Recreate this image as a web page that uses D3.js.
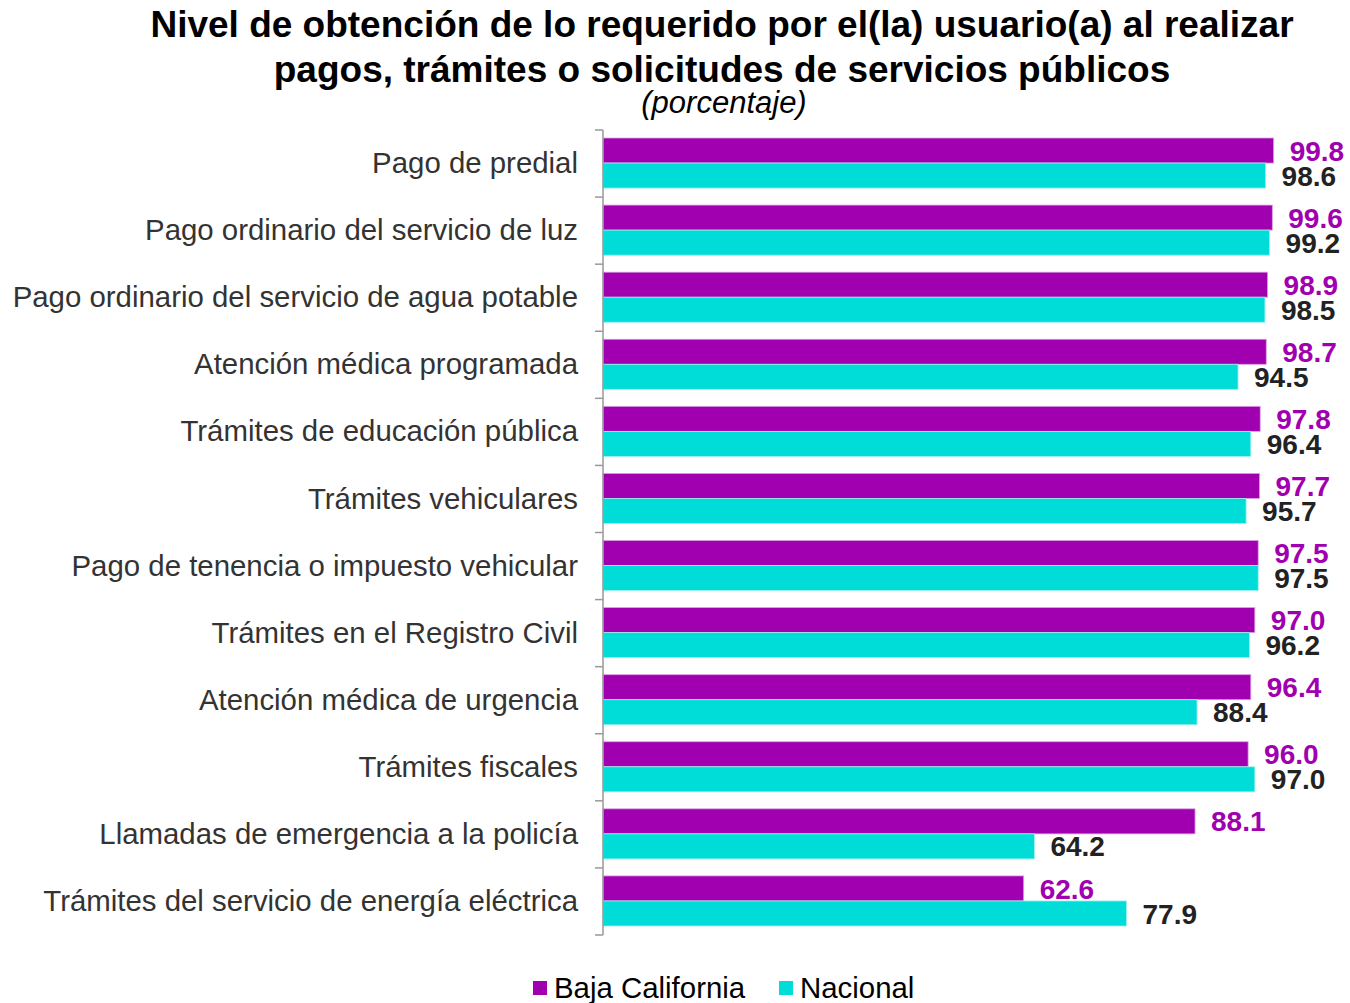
<!DOCTYPE html>
<html><head><meta charset="utf-8">
<script src="https://cdn.jsdelivr.net/npm/d3@7/dist/d3.min.js"></script>
<style>body{margin:0;background:#fff;}svg{display:block;font-family:"Liberation Sans",Arial,sans-serif;}</style>
</head><body>
<svg id="c" width="1350" height="1003"></svg>
<script>
const categories = ["Pago de predial","Pago ordinario del servicio de luz","Pago ordinario del servicio de agua potable","Atención médica programada","Trámites de educación pública","Trámites vehiculares","Pago de tenencia o impuesto vehicular","Trámites en el Registro Civil","Atención médica de urgencia","Trámites fiscales","Llamadas de emergencia a la policía","Trámites del servicio de energía eléctrica"];
const bajaCalifornia = [99.8,99.6,98.9,98.7,97.8,97.7,97.5,97.0,96.4,96.0,88.1,62.6];
const nacional = [98.6,99.2,98.5,94.5,96.4,95.7,97.5,96.2,88.4,97.0,64.2,77.9];
const seriesNames = ["Baja California","Nacional"];
const colors = ["#A000B0","#00DCD8"];
const labelColors = ["#A000B0","#222222"];

const svg = d3.select("#c");
const x = d3.scaleLinear().domain([0,100]).range([603,1275]);
const y = d3.scaleBand().domain(categories).range([130,935]).paddingInner(0).paddingOuter(0);
const inner = d3.scaleBand().domain(seriesNames).range([8, y.bandwidth()-9]);

// title
svg.append("text").attr("x",722).attr("y",37).attr("text-anchor","middle").attr("font-size",37).attr("font-weight","bold").attr("fill","#000").text("Nivel de obtención de lo requerido por el(la) usuario(a) al realizar");
svg.append("text").attr("x",722).attr("y",82).attr("text-anchor","middle").attr("font-size",37).attr("font-weight","bold").attr("fill","#000").text("pagos, trámites o solicitudes de servicios públicos");
svg.append("text").attr("x",724).attr("y",113).attr("text-anchor","middle").attr("font-size",31).attr("font-style","italic").attr("fill","#000").text("(porcentaje)");

const series = [bajaCalifornia, nacional];
const g = svg.append("g");
series.forEach((vals, si) => {
  g.selectAll(".b"+si).data(vals).enter().append("rect")
    .attr("x", x(0))
    .attr("y", (d,i)=> y(categories[i]) + inner(seriesNames[si]))
    .attr("width", d => x(d)-x(0))
    .attr("height", inner.bandwidth())
    .attr("fill", colors[si])
    .attr("stroke", si===0 ? "#d9a0e0" : "#9ff0ee").attr("stroke-width",0.8);
  g.selectAll(".l"+si).data(vals).enter().append("text")
    .attr("x", d => x(d) + 16)
    .attr("y", (d,i)=> y(categories[i]) + inner(seriesNames[si]) + inner.bandwidth()/2)
    .attr("dy","0.36em")
    .attr("font-size",28).attr("font-weight","bold")
    .attr("fill", labelColors[si])
    .text(d => d.toFixed(1));
});

// axis
const ag = svg.append("g").attr("transform","translate(603,0)");
ag.append("line").attr("x1",0).attr("x2",0).attr("y1",130).attr("y2",935).attr("stroke","#999").attr("stroke-width",1.5);
const bounds = categories.map(c=>y(c)).concat([y.range()[1]]);
ag.selectAll(".tk").data(bounds).enter().append("line")
  .attr("x1",-8).attr("x2",0).attr("y1",d=>d).attr("y2",d=>d).attr("stroke","#999").attr("stroke-width",1.5);
svg.append("g").selectAll("text").data(categories).enter().append("text")
  .attr("x",578).attr("y",d=>y(d)+y.bandwidth()/2 - 1).attr("dy","0.36em")
  .attr("text-anchor","end").attr("font-size",29.4).attr("fill","#333").text(d=>d);

// legend
const legX = [533, 779];
seriesNames.forEach((n,i)=>{
  svg.append("rect").attr("x",legX[i]).attr("y",981).attr("width",14).attr("height",14).attr("fill",colors[i]);
  svg.append("text").attr("x",legX[i]+21).attr("y",998).attr("font-size",29.4).attr("fill","#000").text(n);
});
</script>
</body></html>
